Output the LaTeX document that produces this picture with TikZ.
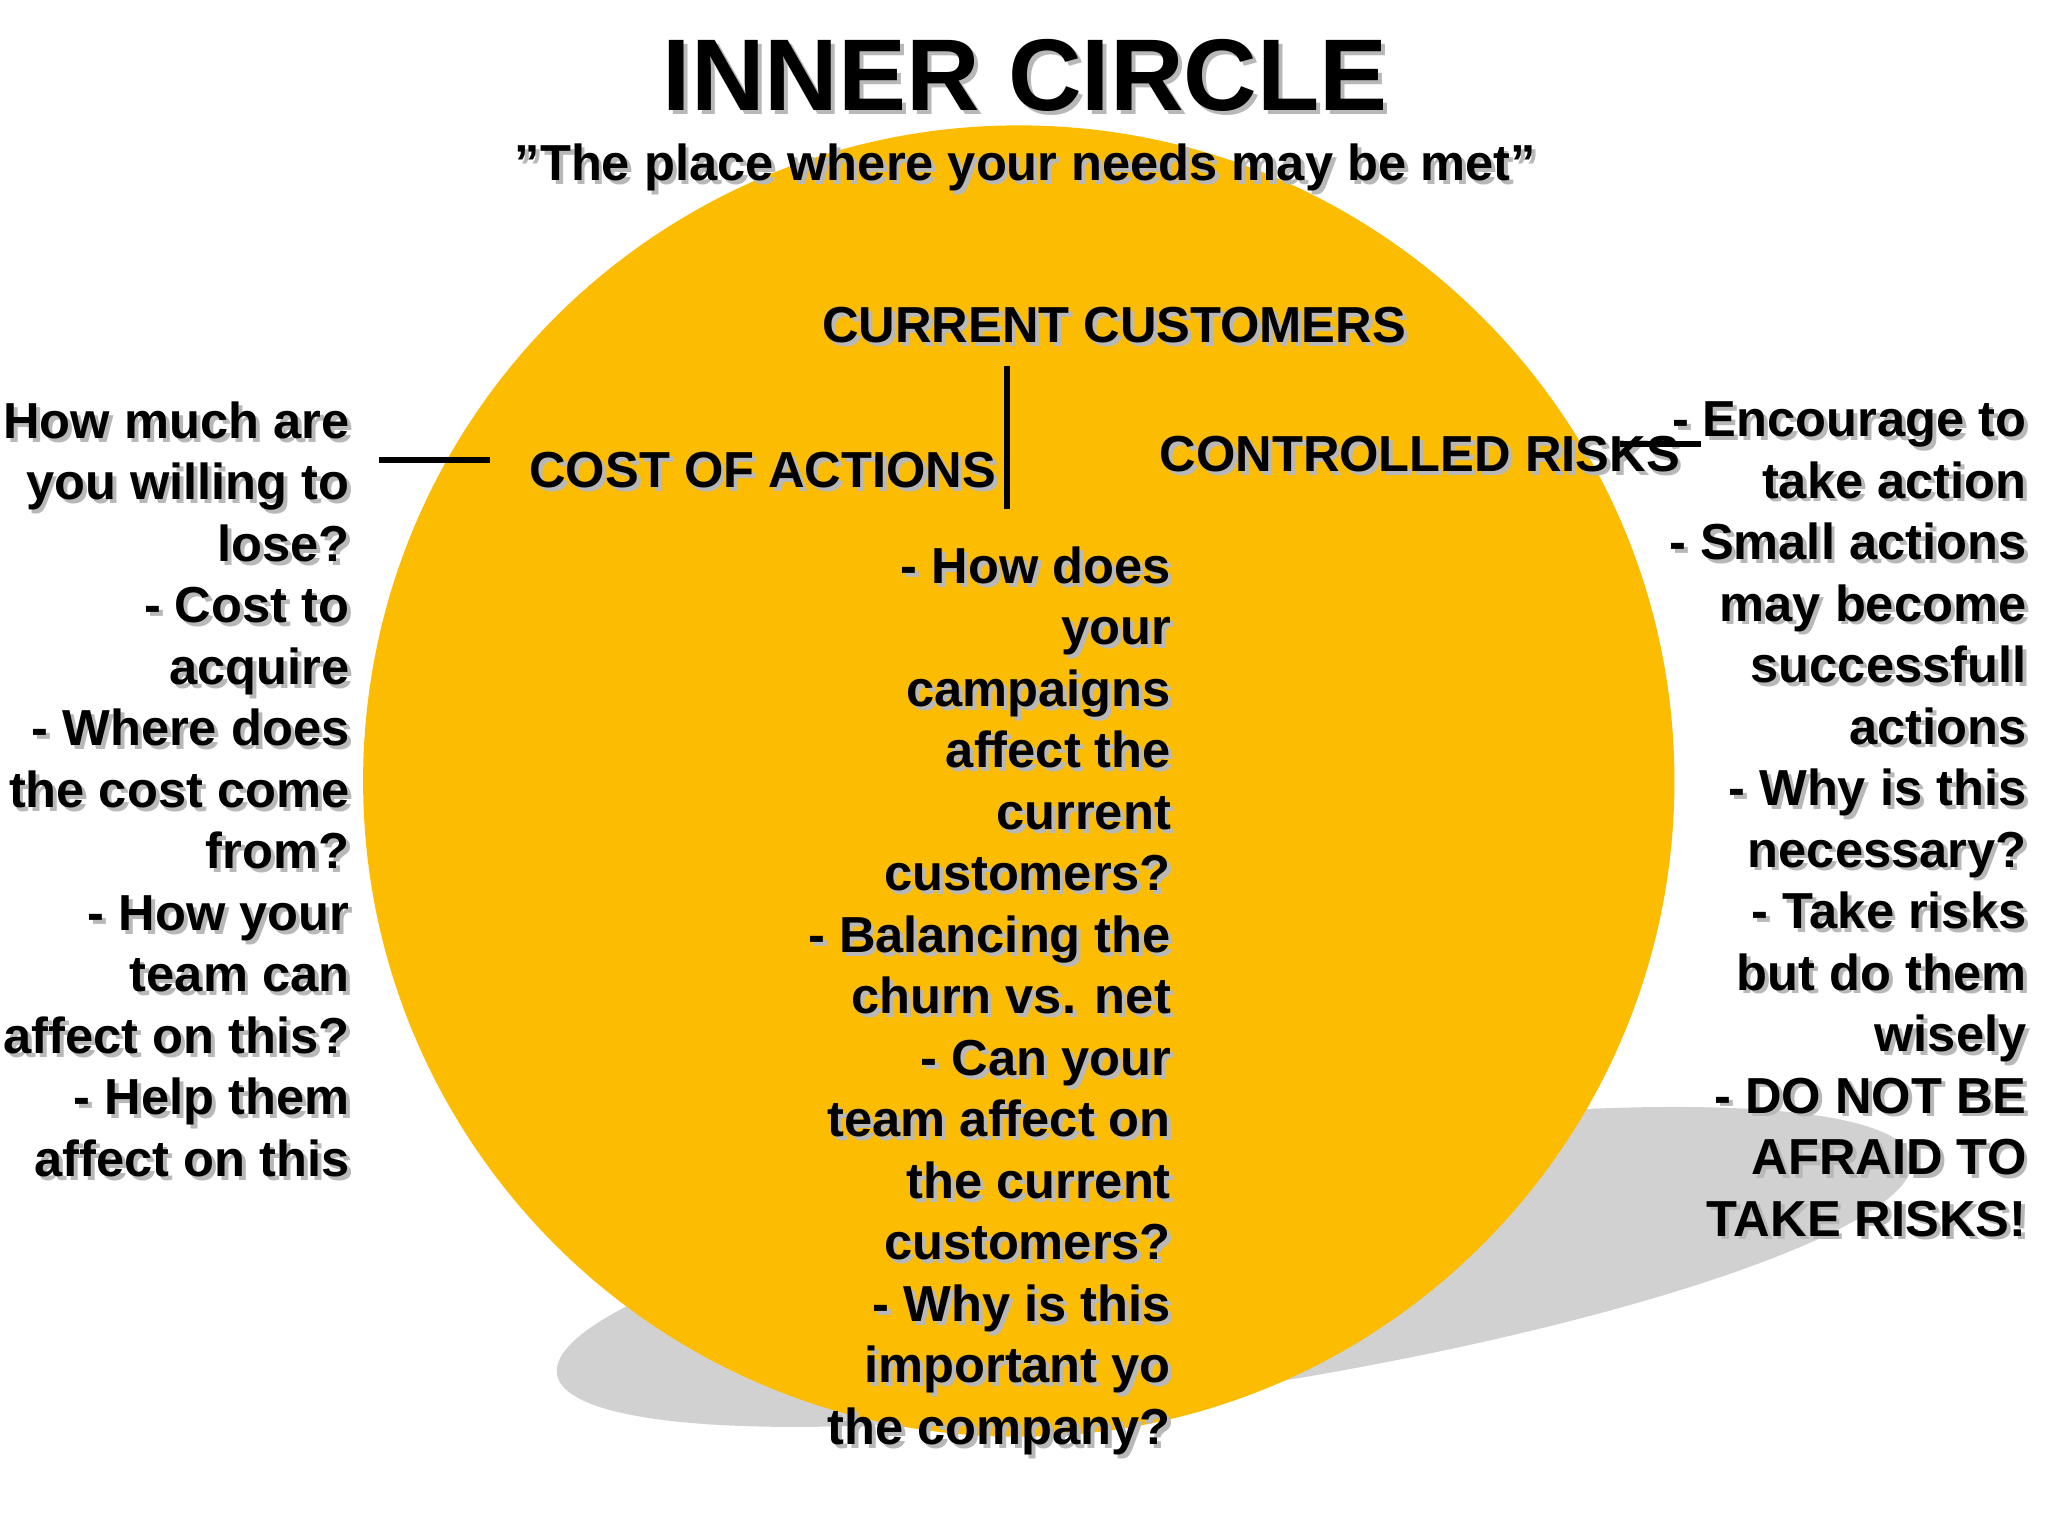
\documentclass[tikz,border=0pt]{standalone}
\usepackage{fontspec}
\setmainfont{Liberation Sans}
\usetikzlibrary{calc}
\newcommand\shnode[5]{%
  \node[body,shd,anchor=#3,#5] at ($(#2)+(3,3)$) {#4};
  \node[body,anchor=#3,#5] (#1) at (#2) {#4};}
\begin{document}
\begin{tikzpicture}[x=0.01306cm,y=-0.01306cm,
  body/.style={font=\bfseries\fontsize{14.4}{17.5}\selectfont,align=right,inner sep=0pt},
  shd/.style={text=black!28}]
\useasboundingbox (0,0) rectangle (1568,1176);
\fill[white] (0,0) rectangle (1568,1176);
% shadow ellipse
\fill[black!18,rotate around={9:(945,970)}] (945,970) ellipse (525 and 92);
% circle
\fill[fill={rgb,255:red,252;green,188;blue,2}] (780,598) circle (502);
% title
\shnode{title}{785,58}{center}{INNER CIRCLE}{font=\bfseries\fontsize{29}{34}\selectfont}
\shnode{sub}{785,128}{center}{"The place where your needs may be met”}{}
\shnode{cc}{853,249}{center}{CURRENT CUSTOMERS}{}
\shnode{coa}{584,360}{center}{COST OF ACTIONS}{}
\shnode{cr}{1087,348}{center}{CONTROLLED RISKS}{}
\shnode{left}{268,307}{north east}{How much are\\you willing to\\lose?\\- Cost to\\acquire\\- Where does\\the cost come\\from?\\- How your\\team can\\affect on this?\\- Help them\\affect on this}{}
\shnode{mid}{897,418}{north east}{- How does\\your\\campaigns\\affect the\\current\\customers?\\- Balancing the\\churn vs. net\\- Can your\\team affect on\\the current\\customers?\\- Why is this\\important yo\\the company?}{}
\shnode{right}{1552,307}{north east}{- Encourage to\\take action\\- Small actions\\may become\\successfull\\actions\\- Why is this\\necessary?\\- Take risks\\but do them\\wisely\\- DO NOT BE\\AFRAID TO\\TAKE RISKS!}{}
% connectors
\coordinate (l1) at (290,352);
\coordinate (l2) at (375,352);
\draw[line width=1.8pt] (l1) -- (l2);
\coordinate (vt) at (771,280);
\coordinate (vb) at (771,390);
\draw[line width=1.8pt] (vt) -- (vb);
\coordinate (r1) at (1240,340);
\coordinate (r2) at (1302,340);
\draw[line width=1.8pt] (r1) -- (r2);
\end{tikzpicture}
\end{document}
